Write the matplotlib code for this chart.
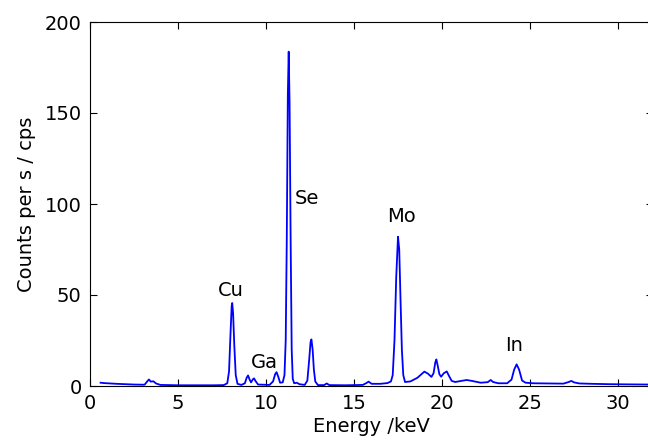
import numpy as np
import matplotlib
matplotlib.use("Agg")
import matplotlib.pyplot as plt

# EDX spectrum: energy (keV) and counts per s
energy = [0.6, 0.8, 1.5, 2.5, 3.1, 3.25, 3.35, 3.45, 3.6, 3.75, 4.0, 5.0, 6.0, 7.0,
          7.6, 7.8, 7.9, 7.98, 8.05, 8.08, 8.13, 8.2, 8.28, 8.38, 8.6, 8.8, 8.9, 8.98,
          9.07, 9.15, 9.25, 9.32, 9.4, 9.55, 10.2, 10.4, 10.52, 10.6, 10.7, 10.8, 10.95,
          11.05, 11.12, 11.18, 11.24, 11.29, 11.34, 11.40, 11.46, 11.52, 11.6, 11.75,
          11.9, 12.2, 12.35, 12.45, 12.53, 12.58, 12.65, 12.72, 12.8, 12.95, 13.3, 13.45,
          13.6, 14.5, 15.5, 15.7, 15.83, 16.0, 16.5, 16.9, 17.1, 17.2, 17.3, 17.4, 17.5,
          17.57, 17.65, 17.72, 17.8, 17.9, 18.2, 18.6, 19.0, 19.2, 19.4, 19.52, 19.62,
          19.68, 19.76, 19.85, 19.95, 20.1, 20.27, 20.4, 20.55, 20.75, 21.1, 21.4, 21.7,
          22.2, 22.6, 22.77, 22.9, 23.2, 23.7, 23.95, 24.1, 24.24, 24.38, 24.55, 24.75,
          25.2, 26.0, 26.9, 27.2, 27.35, 27.5, 27.8, 28.5, 29.5, 30.5, 31.8]
counts = [1.8, 1.6, 1.2, 0.8, 0.7, 2.5, 3.6, 2.4, 2.6, 1.4, 0.6, 0.4, 0.4, 0.4,
          0.5, 1.5, 8, 28, 44, 45.6, 40, 22, 6, 1.2, 0.6, 1.5, 4.5, 5.8,
          3.5, 2, 3.6, 4.2, 2.8, 0.8, 0.6, 2.5, 6.5, 7.6, 5, 1.8, 2,
          6, 25, 80, 160, 183.7, 155, 80, 20, 4, 1.5, 1.8,
          1.0, 0.6, 3, 14, 24, 25.6, 20, 9, 2.5, 0.5, 0.5, 1.4,
          0.5, 0.4, 0.6, 1.6, 2.4, 1.2, 1.2, 1.6, 2.5, 6, 25, 60, 82,
          75, 45, 20, 6, 2.2, 2.5, 4.5, 7.9, 6.8, 5.0, 7, 13,
          14.6, 11, 6.5, 5.1, 7, 8, 5.5, 2.8, 2.2, 2.8, 3.3, 2.8,
          1.8, 2.1, 3.3, 2.2, 1.5, 1.5, 3.5, 9, 11.9, 9, 3, 1.8,
          1.5, 1.4, 1.3, 2.2, 2.8, 2.0, 1.4, 1.2, 1.0, 0.9, 0.8]

# element labels and where they sit
elements = ["Cu", "Ga", "Se", "Mo", "In"]
label_x = [8.0, 9.9, 12.3, 17.7, 24.1]
label_y = [52.5, 13, 103, 93, 22.5]

fig = plt.figure(figsize=(6.48, 4.43), dpi=100)
ax = fig.add_axes([90/648, 57/443, 563.2/648, 364/443])

ax.plot(energy, counts, color='b', lw=1.3)

for name, tx, ty in zip(elements, label_x, label_y):
    ax.text(tx, ty, name, fontsize=14, ha='center', va='center')

ax.set_xlim(0, 32)
ax.set_ylim(0, 200)
ax.set_xticks(np.arange(0, 31, 5))
ax.set_yticks(np.arange(0, 201, 50))
ax.tick_params(direction='in', top=True, right=True, length=5, labelsize=14, pad=6)
ax.set_xlabel("Energy /keV", fontsize=14, labelpad=3)
ax.set_ylabel("Counts per s / cps", fontsize=14, labelpad=6)

fig.savefig("out.png", dpi=100)
